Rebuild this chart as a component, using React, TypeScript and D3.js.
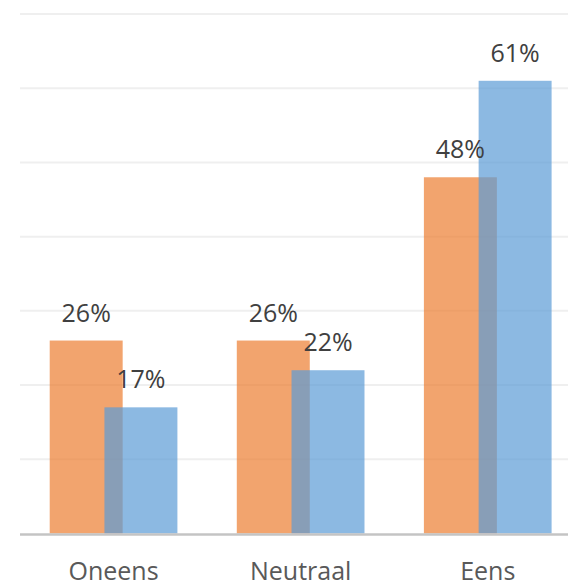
import React from "react";
import * as d3 from "d3";

const categories = ["Oneens", "Neutraal", "Eens"];
const seriesNames = ["Reeks 1", "Reeks 2"];
const orangeValues = [26, 26, 48];
const blueValues = [17, 22, 61];
const gridTicks = [10, 20, 30, 40, 50, 60, 70];
const seriesColors = ["#ED7D31", "#5B9BD5"];

const W = 568;
const H = 583;

export default function App() {
  const x0 = d3
    .scaleBand<string>()
    .domain(categories)
    .range([20, 581.3])
    .paddingInner(0.3175)
    .paddingOuter(0.3175 / 2);
  const y = d3.scaleLinear().domain([0, 70]).range([533.5, 14]);

  const groupW = x0.bandwidth();
  const overlap = 0.25;
  const barW = groupW / (2 - overlap);
  const step = barW * (1 - overlap);

  const series = [orangeValues, blueValues];
  const font = "'Open Sans', sans-serif";

  return (
    <svg
      width={W}
      height={H}
      style={{ position: "absolute", left: 0, top: 0, background: "#fff" }}
    >
      {gridTicks.map((t) => (
        <line
          key={t}
          x1={20}
          x2={W}
          y1={y(t)}
          y2={y(t)}
          stroke="#efefef"
          strokeWidth={2}
        />
      ))}
      {series.map((vals, si) =>
        vals.map((v, i) => (
          <rect
            key={seriesNames[si] + i}
            x={(x0(categories[i]) as number) + si * step}
            y={y(v)}
            width={barW}
            height={y(0) - y(v)}
            fill={seriesColors[si]}
            fillOpacity={0.7}
          />
        ))
      )}
      <line
        x1={20}
        x2={W}
        y1={534.5}
        y2={534.5}
        stroke="#c4c4c4"
        strokeWidth={2.5}
      />
      {series.map((vals, si) =>
        vals.map((v, i) => (
          <text
            key={"l" + seriesNames[si] + i}
            x={(x0(categories[i]) as number) + si * step + barW / 2}
            y={y(v) - 19}
            textAnchor="middle"
            fontFamily={font}
            fontSize={25}
            fill="#404040"
          >
            {v}%
          </text>
        ))
      )}
      {categories.map((c) => (
        <text
          key={c}
          x={(x0(c) as number) + groupW / 2}
          y={580}
          textAnchor="middle"
          fontFamily={font}
          fontSize={25}
          fill="#595959"
        >
          {c}
        </text>
      ))}
    </svg>
  );
}
